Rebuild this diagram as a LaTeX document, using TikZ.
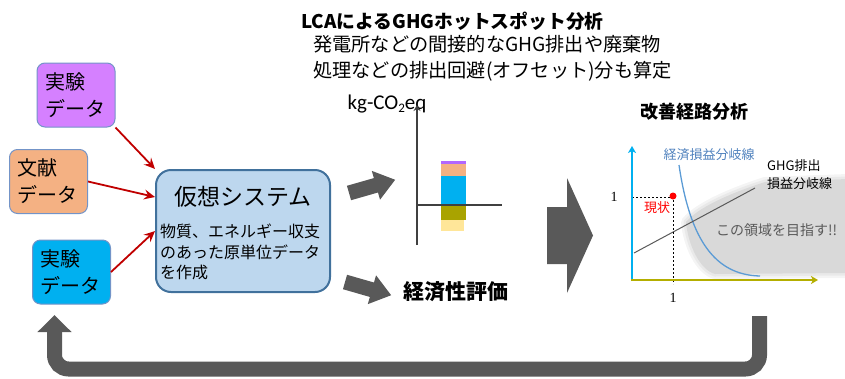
\documentclass[tikz,border=0pt]{standalone}
\usepackage{fontspec}
\setmainfont{Noto Sans CJK JP}
\newfontfamily\calib{Carlito}
\newfontfamily\tms{Liberation Serif}
\usetikzlibrary{arrows.meta,calc}
\newcommand\fsz[2]{\fontsize{#1}{#2}\selectfont}
\definecolor{purpfill}{HTML}{D580FF}
\definecolor{orgfill}{HTML}{F4B183}
\definecolor{cyanfill}{HTML}{00B0F0}
\definecolor{boxedge}{HTML}{7394C8}
\definecolor{vsfill}{HTML}{BDD7EE}
\definecolor{vsedge}{HTML}{41719C}
\definecolor{arrowgray}{HTML}{595959}
\definecolor{redarrow}{HTML}{C00000}
\definecolor{barpurple}{HTML}{B266FF}
\definecolor{barolive}{HTML}{A9A300}
\definecolor{baryellow}{HTML}{FFE699}
\definecolor{axisdark}{HTML}{404040}
\definecolor{oliveaxis}{HTML}{B4AE00}
\definecolor{curveblue}{HTML}{5B9BD5}
\definecolor{textblue}{HTML}{4F81BD}
\definecolor{regiongray}{HTML}{D9D9D9}
\definecolor{dotred}{HTML}{FF0000}
\begin{document}
\begin{tikzpicture}[x=1pt,y=-1pt,
  databox/.style={draw=boxedge, line width=1pt, rounded corners=8pt,
    minimum width=78pt, minimum height=64pt, text width=62pt, align=left,
    inner xsep=8pt, font=\fsz{20}{27}},
  redconn/.style={draw=redarrow, line width=1.8pt, -{Stealth[length=11pt,width=10pt,inset=4pt]}},
  pics/blockarrow/.style={code={\fill[arrowgray] (0,-7.5) -- (28,-7.5) -- (28,-15) -- (48,0) -- (28,15) -- (28,7.5) -- (0,7.5) -- cycle;}}
]
\useasboundingbox (0,0) rectangle (845,378);

% input boxes
\node[databox, fill=purpfill] (p) at (76,95) {実験\\データ};
\node[databox, fill=orgfill] (o) at (48.5,181.5) {文献\\データ};
\node[databox, fill=cyanfill] (c) at (71.5,272) {実験\\データ};

% virtual system
\node[draw=vsedge, line width=2pt, fill=vsfill, rounded corners=15pt,
  minimum width=174pt, minimum height=122pt] (v) at (243,231) {};
\node[font=\fsz{23}{28}] (vt) at (243,197) {仮想システム};
\node[font=\fsz{16}{20.5}, anchor=north west, align=left, inner sep=0] (vd) at (160,224)
  {物質、エネルギー収支\\のあった原単位データ\\を作成};

\draw[redconn] (p.south east) -- (v.north west);
\draw[redconn] (o.east) -- ([yshift=34pt]v.west);
\draw[redconn] (c.east) -- (v.west);

% titles
\node[font=\bfseries\fsz{18.8}{22}] (title) at (452.5,21) {LCAによるGHGホットスポット分析};
\node[font=\fsz{19.2}{26}, anchor=west, align=left, inner sep=0] (sub) at (313,58)
  {発電所などの間接的なGHG排出や廃棄物\\処理などの排出回避(オフセット)分も算定};

% GHG bar chart
\node[font=\calib\fsz{21}{24}] (unit) at (387,104) {kg-CO\raisebox{-3pt}{\fsz{13}{13}2}eq};
\fill[barpurple] (441,161) rectangle (466,164);
\fill[orgfill] (441,164) rectangle (466,176);
\fill[cyanfill] (441,176) rectangle (466,204);
\fill[barolive] (441,206) rectangle (466,220);
\fill[baryellow] (441,220) rectangle (464,231);
\draw[axisdark, line width=2pt, -{Stealth[length=6pt,width=7pt,inset=2pt]}] (417,245) -- (417,105);
\draw[axisdark, line width=2pt] (417,205) -- (502,205);

% block arrows
\pic[rotate=16] at (349,193) {blockarrow};
\pic[rotate=-16] at (345,282) {blockarrow};
\node[font=\bfseries\fsz{21}{24}] (ke) at (456,292) {経済性評価};
\fill[arrowgray] (547,207) -- (567,207) -- (567,178) -- (593,235.5) -- (567,293) -- (567,264) -- (547,264) -- cycle;

% improvement path chart
\node[font=\bfseries\fsz{18}{20}] (kz) at (694,112) {改善経路分析};
\fill[regiongray] (686,222) .. controls (700,205) and (740,190) .. (765,182) -- (848,179) -- (848,273) -- (715,274) .. controls (700,270) and (688,245) .. (686,222) -- cycle;
\draw[regiongray, line width=10pt, opacity=0.3, line join=round] (686,222) .. controls (700,205) and (740,190) .. (765,182) -- (848,179) -- (848,273) -- (715,274) .. controls (700,270) and (688,245) .. (686,222) -- cycle;
\draw[regiongray, line width=5pt, opacity=0.4, line join=round] (686,222) .. controls (700,205) and (740,190) .. (765,182) -- (848,179) -- (848,273) -- (715,274) .. controls (700,270) and (688,245) .. (686,222) -- cycle;
\node[text=arrowgray, font=\fsz{14}{16}, anchor=west, inner sep=0] (goal) at (716,230) {この領域を目指す!!};

\draw[curveblue, line width=1.3pt] (679,165) .. controls (690,240) and (715,275) .. (760,276);
\draw[arrowgray, line width=1pt] (634,253) -- (755,188);
\draw[black, line width=0.6pt, dash pattern=on 2pt off 2pt] (632,197) -- (673,197) -- (673,284);
\draw[cyanfill, line width=2pt, -{Stealth[length=7pt,width=8pt,inset=2pt]}] (632,281) -- (632,146);
\draw[oliveaxis, line width=2pt, -{Stealth[length=7pt,width=8pt,inset=2pt]}] (631,280) -- (818,280);
\node[circle, fill=dotred, inner sep=0, minimum size=7pt] (now) at (673,196) {};
\node[text=dotred, font=\fsz{13}{15}] (gj) at (657,208) {現状};
\node[font=\tms\fsz{14}{16}] (one1) at (614,197) {1};
\node[font=\tms\fsz{14}{16}] (one2) at (673,298) {1};
\node[text=textblue, font=\fsz{13}{15}] (eb) at (709,155) {経済損益分岐線};
\node[font=\fsz{13}{18}, align=left, anchor=north west, inner sep=0] (gb) at (767,159) {GHG排出\\損益分岐線};

% feedback arrow
\coordinate (ur) at (759.5,316);
\coordinate (ul) at (54.5,315);
\draw[arrowgray, line width=15pt, rounded corners=14pt, -{Triangle[length=17pt,width=33pt]}]
  (ur) -- (759.5,369) -- (54.5,369) -- (ul);
\end{tikzpicture}
\end{document}
